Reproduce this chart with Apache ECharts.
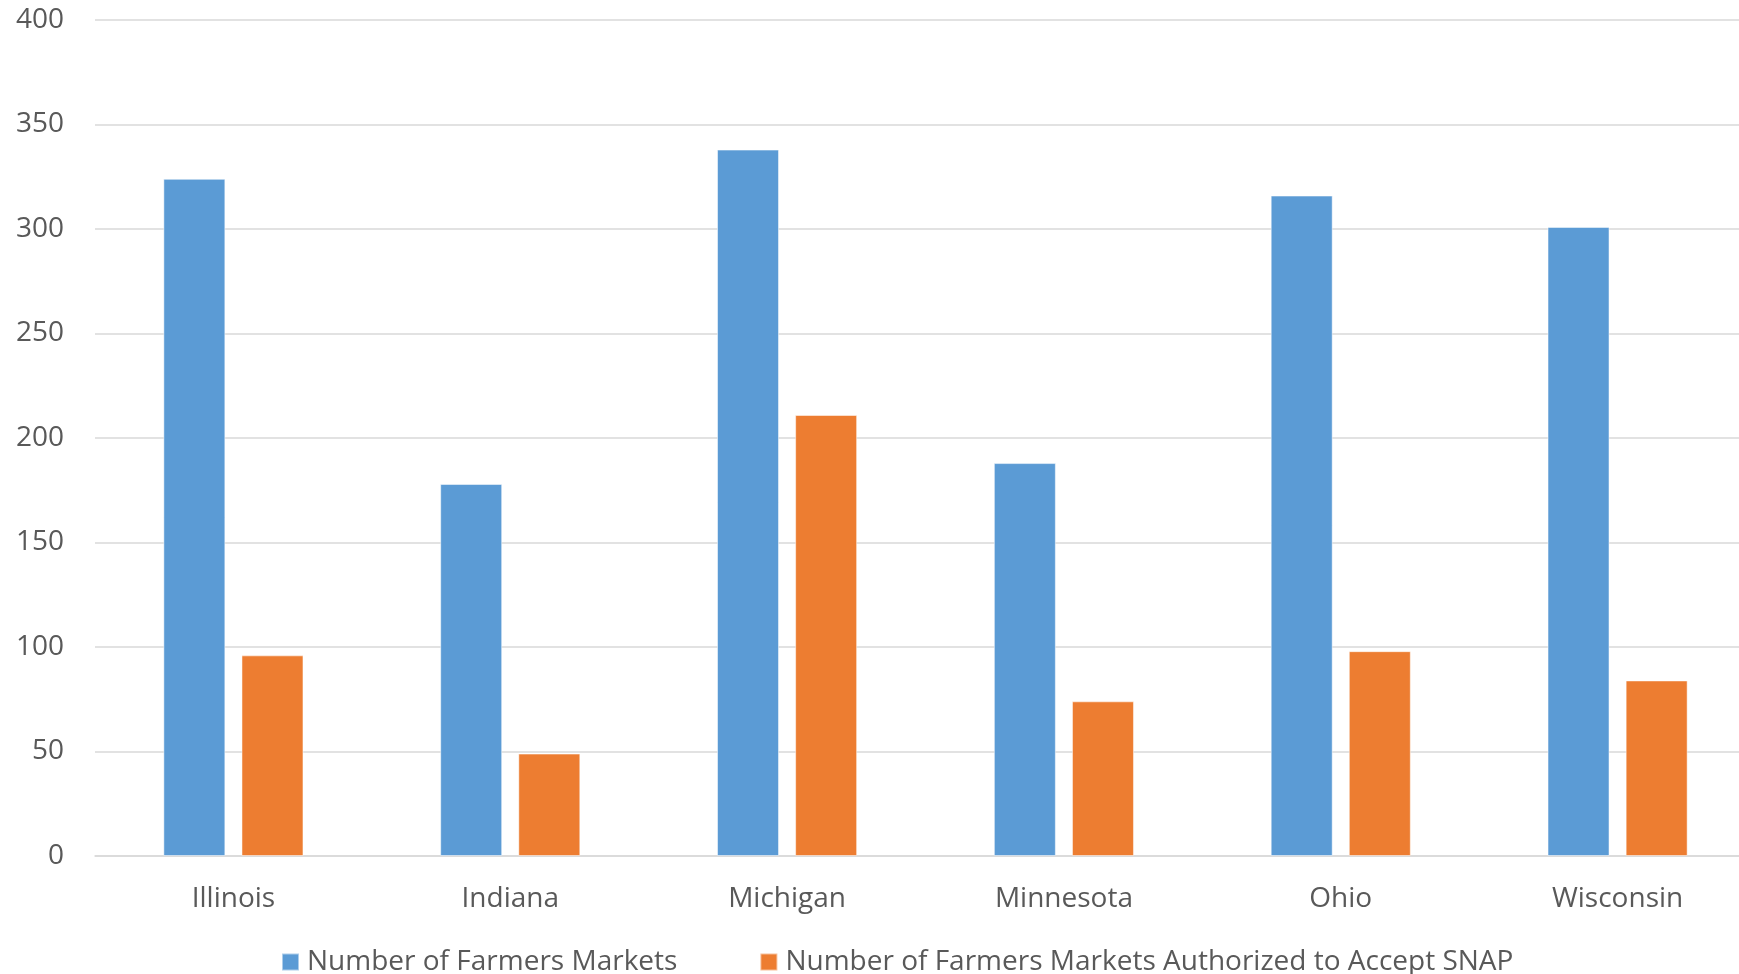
<!DOCTYPE html>
<html>
<head>
<meta charset="utf-8">
<script src="https://cdn.jsdelivr.net/npm/echarts@6/dist/echarts.min.js"></script>
<style>
html,body{margin:0;padding:0;background:#fff;overflow:hidden;}
#chart{width:1756px;height:974px;}
</style>
</head>
<body>
<div id="chart"></div>
<script>
const categories = ['Illinois', 'Indiana', 'Michigan', 'Minnesota', 'Ohio', 'Wisconsin'];
const seriesNames = ['Number of Farmers Markets', 'Number of Farmers Markets Authorized to Accept SNAP'];
const farmersMarkets = [324, 178, 338, 188, 316, 301];
const snapMarkets = [96, 49, 211, 74, 98, 84];

const FONT = 'Open Sans';
const TEXT = '#595959';
const chart = echarts.init(document.getElementById('chart'), null, {renderer: 'canvas'});
chart.setOption({
  animation: false,
  backgroundColor: '#ffffff',
  textStyle: {fontFamily: FONT},
  grid: {left: 95, right: 0, top: 20, bottom: 118, containLabel: false},
  legend: {
    left: 276, top: 943,
    itemWidth: 17, itemHeight: 17, itemGap: 82,
    icon: 'rect',
    textStyle: {fontFamily: FONT, fontSize: 28, color: TEXT, padding: [0, 0, 0, 3]},
    data: seriesNames
  },
  xAxis: {
    type: 'category',
    data: categories,
    axisLine: {show: true, lineStyle: {color: '#d9d9d9', width: 1.5}},
    axisTick: {show: false},
    axisLabel: {fontFamily: FONT, fontSize: 28, color: TEXT, margin: 29}
  },
  yAxis: {
    type: 'value',
    min: 0, max: 400, interval: 50,
    axisLine: {show: false},
    axisTick: {show: false},
    axisLabel: {fontFamily: FONT, fontSize: 28, color: TEXT, margin: 31},
    splitLine: {lineStyle: {color: '#d9d9d9', width: 1.5}}
  },
  series: [
    {name: seriesNames[0], type: 'bar', data: farmersMarkets, barWidth: 62, barGap: '26%',
     itemStyle: {color: '#5B9BD5', borderColor: 'rgba(255,255,255,0.5)', borderWidth: 1}},
    {name: seriesNames[1], type: 'bar', data: snapMarkets, barWidth: 62, barGap: '26%',
     itemStyle: {color: '#ED7D31', borderColor: 'rgba(255,255,255,0.5)', borderWidth: 1}}
  ]
});
</script>
</body>
</html>
